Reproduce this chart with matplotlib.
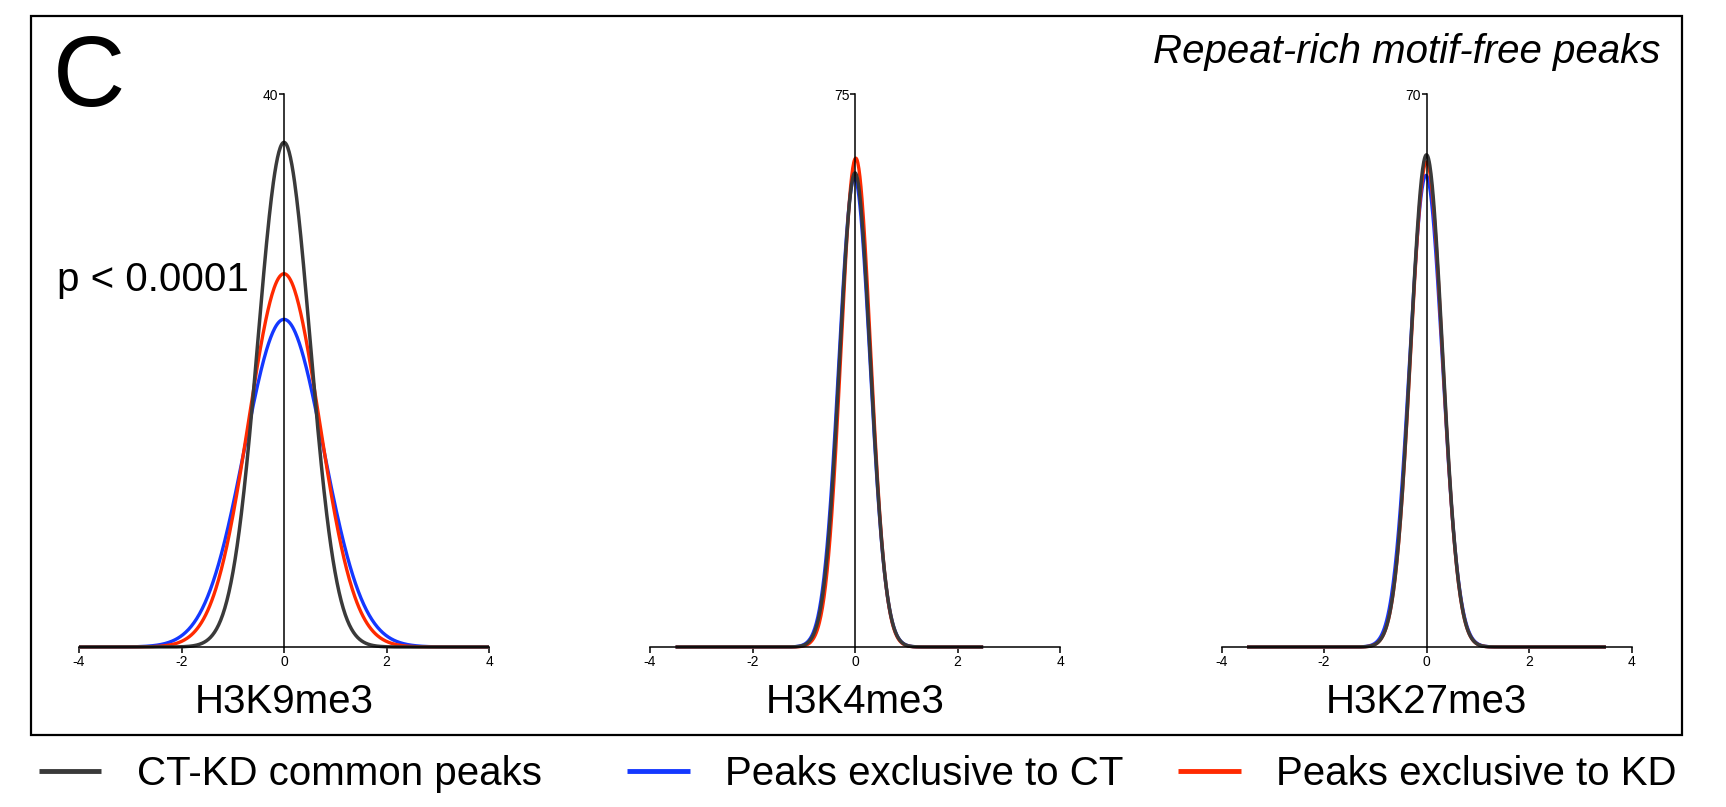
import numpy as np
import matplotlib.pyplot as plt
from matplotlib.patches import Rectangle

plt.rcParams['font.family'] = ['Liberation Sans', 'DejaVu Sans']

# gaussian fits: peak height, centre, sd
marks = ['H3K9me3', 'H3K4me3', 'H3K27me3']
ymax = [40, 75, 70]
xspan = [(-4, 4), (-3.5, 2.5), (-3.5, 3.5)]

common_amp = [36.5, 64.3, 62.3]
common_mu = [0.0, 0.0, 0.0]
common_sd = [0.51, 0.30, 0.31]

ct_amp = [23.7, 63.6, 59.7]
ct_mu = [0.0, -0.01, -0.01]
ct_sd = [0.77, 0.305, 0.32]

kd_amp = [27.0, 66.3, 61.4]
kd_mu = [0.0, 0.015, 0.0]
kd_sd = [0.69, 0.29, 0.31]

labels = ['CT-KD common peaks', 'Peaks exclusive to CT', 'Peaks exclusive to KD']
col_common = '#3a3a3a'
col_ct = '#1438ff'
col_kd = '#ff2a00'


def gauss(x, a, mu, sd):
    return a * np.exp(-(x - mu)**2 / (2 * sd**2))


W, H = 1726, 807
fig = plt.figure(figsize=(W / 100, H / 100), dpi=100)

lefts = [79, 650, 1221.5]
handles = None
for i in range(3):
    ax = fig.add_axes([lefts[i] / W, (H - 647) / H, 410 / W, (647 - 94) / H])
    x = np.linspace(xspan[i][0], xspan[i][1], 600)
    lb, = ax.plot(x, gauss(x, ct_amp[i], ct_mu[i], ct_sd[i]), color=col_ct, lw=2.4, clip_on=False, solid_capstyle='butt')
    lr, = ax.plot(x, gauss(x, kd_amp[i], kd_mu[i], kd_sd[i]), color=col_kd, lw=2.4, clip_on=False, solid_capstyle='butt')
    lk, = ax.plot(x, gauss(x, common_amp[i], common_mu[i], common_sd[i]), color=col_common, lw=2.5, clip_on=False, solid_capstyle='butt')
    if handles is None:
        handles = [lk, lb, lr]

    ax.set_xlim(-4, 4)
    ax.set_ylim(0, ymax[i])
    ax.spines['top'].set_visible(False)
    ax.spines['right'].set_visible(False)
    ax.spines['left'].set_position(('data', 0))
    ax.spines['left'].set_linewidth(1.1)
    ax.spines['bottom'].set_linewidth(1.1)
    ax.spines['left'].set_zorder(5)
    ax.set_xticks([-4, -2, 0, 2, 4])
    ax.set_xticklabels(['-4', '-2', '0', '2', '4'])
    ax.set_yticks([ymax[i]])
    ax.tick_params(axis='x', direction='out', length=4.5, width=1.1, pad=1.5, labelsize=10)
    ax.tick_params(axis='y', direction='out', length=3.5, width=1.1, pad=0.5, labelsize=10)
    ax.patch.set_visible(False)
    ax.text(0.5, -0.0995, marks[i], transform=ax.transAxes, ha='center', va='center', fontsize=29)

fig.patches.append(Rectangle((31 / W, (H - 735) / H), (1682 - 31) / W, (735 - 16) / H,
                             transform=fig.transFigure, fill=False, lw=1.6, ec='black'))

fig.text(53 / W, 1 - 80 / H, 'C', fontsize=72, ha='left', va='center')
fig.text(57 / W, 1 - 280 / H, 'p < 0.0001', fontsize=29, ha='left', va='center')
fig.text(1660 / W, 1 - 52 / H, 'Repeat-rich motif-free peaks', fontsize=29, style='italic', ha='right', va='center')

# one legend entry per block so each sits where it does in the original
leg_x = [38.5, 627, 1178]
for h, lab, lx in zip(handles, labels, leg_x):
    leg = fig.legend([h], [lab], loc='center left', bbox_to_anchor=(lx / W, 1 - 774 / H),
                     frameon=False, fontsize=29, handlelength=1.56, handletextpad=0.88,
                     borderpad=0, borderaxespad=0)
    for l in leg.get_lines():
        l.set_linewidth(3.5)

fig.savefig('out.png', dpi=100)
